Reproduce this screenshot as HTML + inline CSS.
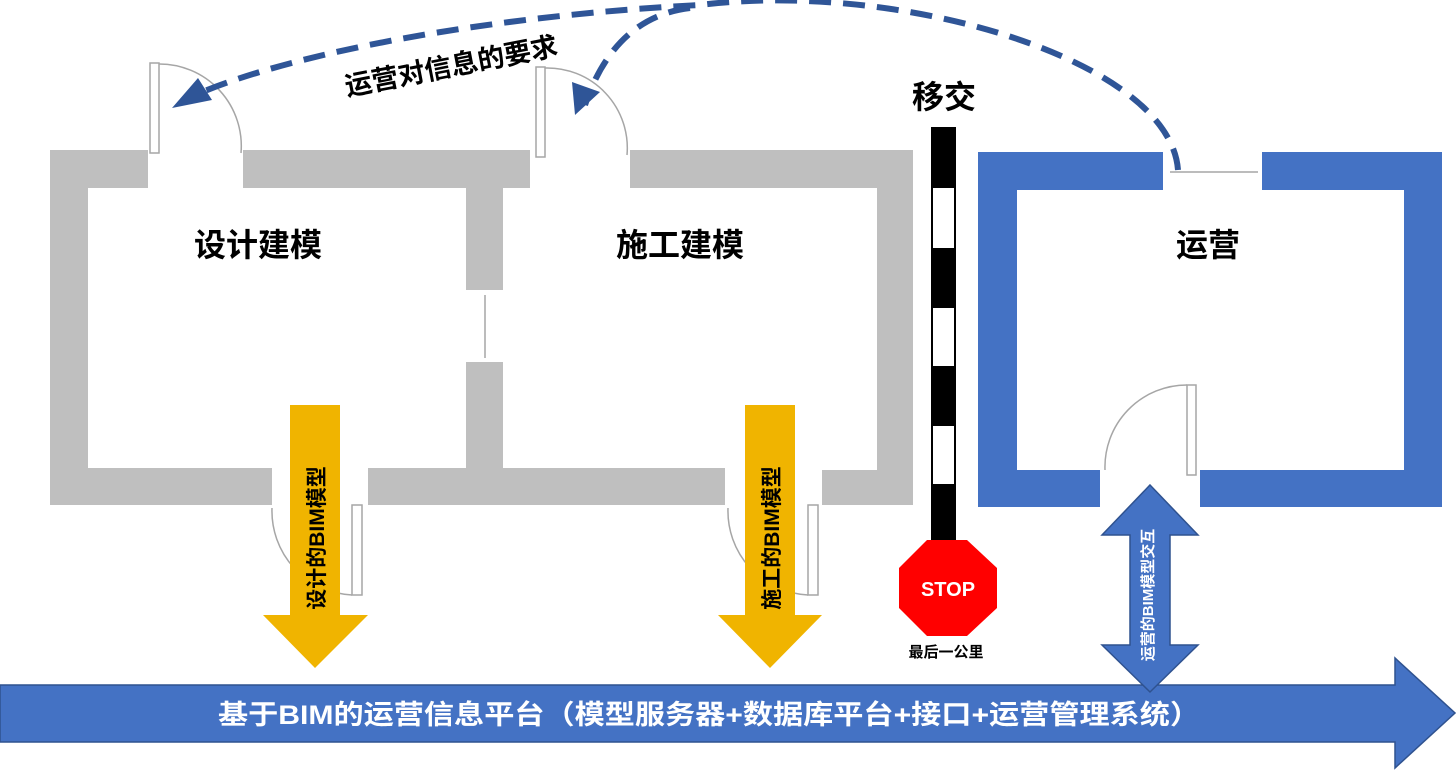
<!DOCTYPE html>
<html><head><meta charset="utf-8"><style>
body{margin:0;background:#fff;width:1456px;height:771px;overflow:hidden;font-family:"Liberation Sans","Noto Sans CJK SC",sans-serif;}
</style></head><body>
<svg width="1456" height="771" xmlns="http://www.w3.org/2000/svg" font-family="Liberation Sans, Noto Sans CJK SC, sans-serif">
<g fill="#bfbfbf">
<rect x="50" y="150" width="98" height="38"/>
<rect x="243" y="150" width="287" height="38"/>
<rect x="50" y="150" width="38" height="355"/>
<rect x="50" y="468" width="222" height="37"/>
<rect x="368" y="468" width="357" height="37"/>
<rect x="466" y="150" width="37" height="140"/>
<rect x="466" y="362" width="37" height="143"/>
<rect x="630" y="150" width="283" height="38"/>
<rect x="877" y="150" width="36" height="355"/>
<rect x="822" y="470" width="91" height="35"/>
</g>
<g fill="none" stroke="#a6a6a6" stroke-width="1.5">
<rect x="150" y="63" width="9" height="90"/>
<path d="M159 64 A82 82 0 0 1 241 153"/>
<rect x="536" y="67" width="9" height="90"/>
<path d="M545 68 A80 80 0 0 1 627 155"/>
<line x1="485" y1="295" x2="485" y2="358"/>
<rect x="352" y="505" width="10" height="90"/>
<path d="M272 508 A84 84 0 0 0 352 595"/>
<rect x="808" y="505" width="10" height="90"/>
<path d="M728 508 A84 84 0 0 0 808 595"/>
<rect x="1187" y="385" width="9" height="90"/>
<path d="M1187 385 A82 82 0 0 0 1105 470"/>
<line x1="1170" y1="172" x2="1258" y2="172"/>
</g>
<g fill="#4472c4">
<rect x="978" y="152" width="185" height="38"/>
<rect x="1262" y="152" width="180" height="38"/>
<rect x="978" y="152" width="39" height="355"/>
<rect x="1404" y="152" width="38" height="355"/>
<rect x="978" y="470" width="122" height="37"/>
<rect x="1200" y="470" width="242" height="37"/>
</g>
<g font-weight="bold" font-size="32" fill="#000" text-anchor="middle">
<text x="258" y="256">设计建模</text>
<text x="680" y="256">施工建模</text>
<text x="1208" y="256">运营</text>
<text x="944" y="108">移交</text>
</g>
<rect x="932" y="128" width="23" height="412" fill="#fff" stroke="#000" stroke-width="2"/>
<g fill="#000">
<rect x="932" y="128" width="23" height="60"/>
<rect x="932" y="248" width="23" height="60"/>
<rect x="932" y="366" width="23" height="60"/>
<rect x="932" y="484" width="23" height="56"/>
</g>
<polygon points="927,540 967,540 997,568 997,608 967,636 927,636 899,608 899,568" fill="#ff0000"/>
<text x="948" y="596" font-size="20" font-weight="bold" fill="#fff" text-anchor="middle">STOP</text>
<text x="946" y="657" font-size="15" font-weight="bold" text-anchor="middle">最后一公里</text>
<polygon points="290,405 340,405 340,615 368,615 315,668 263,615 290,615" fill="#f0b400"/>
<polygon points="745,405 795,405 795,615 822,615 770,668 718,615 745,615" fill="#f0b400"/>
<text transform="translate(324,538) rotate(-90)" font-size="21" font-weight="bold" text-anchor="middle">设计的BIM模型</text>
<text transform="translate(779,538) rotate(-90)" font-size="21" font-weight="bold" text-anchor="middle">施工的BIM模型</text>
<polygon points="0,685 1395,685 1395,658 1455,713 1395,768 1395,742 0,742" fill="#4472c4" stroke="#2f528f" stroke-width="1.5"/>
<text x="218" y="724" font-size="27" font-weight="bold" fill="#fff" textLength="982" lengthAdjust="spacingAndGlyphs">基于BIM的运营信息平台（模型服务器+数据库平台+接口+运营管理系统）</text>
<polygon points="1150,485 1198,535 1170,535 1170,645 1198,645 1150,692 1102,645 1130,645 1130,535 1102,535" fill="#4472c4" stroke="#2f528f" stroke-width="1.5"/>
<text transform="translate(1153,595) rotate(-90)" font-size="15" font-weight="bold" fill="#fff" text-anchor="middle">运营的BIM模型交互</text>
<g fill="none" stroke="#2f5597" stroke-width="6" stroke-dasharray="22,12">
<path d="M1178 170 C1170 60 900 -20 700 5 C500 15 300 50 195 95"/>
<path d="M690 8 C630 15 600 60 585 105"/>
</g>
<polygon points="172,108 198,78 212,100" fill="#2f5597"/>
<polygon points="575,115 572,82 600,92" fill="#2f5597"/>
<text transform="translate(347,96) rotate(-11)" font-size="27" font-weight="bold">运营对信息的要求</text>
</svg>
</body></html>
